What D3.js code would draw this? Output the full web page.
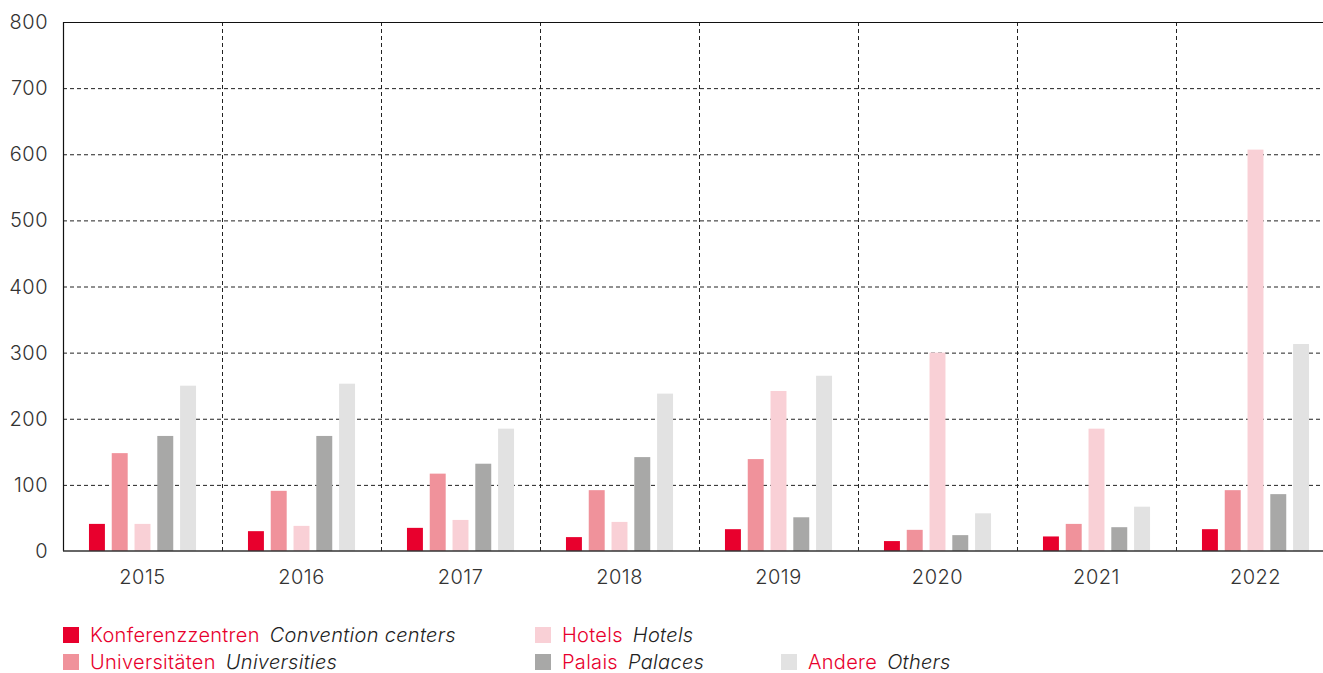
<!DOCTYPE html>
<html>
<head>
<meta charset="utf-8">
<script src="https://cdn.jsdelivr.net/npm/d3@7"></script>
<style>
  body { margin: 0; background: #fff; }
  text { font-family: Inter, "Open Sans", sans-serif; font-weight: 300; }
</style>
</head>
<body>
<script>
var years = ["2015", "2016", "2017", "2018", "2019", "2020", "2021", "2022"];
var seriesKeys = ["conv", "univ", "hotels", "palais", "andere"];
var conv   = [41, 30, 35, 21, 33, 15, 22, 33];
var univ   = [148, 91, 117, 92, 139, 32, 41, 92];
var hotels = [41, 38, 47, 44, 242, 300, 185, 607];
var palais = [174, 174, 132, 142, 51, 24, 36, 86];
var andere = [250, 253, 185, 238, 265, 57, 67, 313];
var yTicks = [0, 100, 200, 300, 400, 500, 600, 700, 800];
var legendDe = ["Konferenzzentren", "Universitäten", "Hotels", "Palais", "Andere"];
var legendEn = ["Convention centers", "Universities", "Hotels", "Palaces", "Others"];
var colors = ["#e8002d", "#f0929b", "#f9d0d6", "#a8a8a7", "#e2e2e2"];

var values = {conv: conv, univ: univ, hotels: hotels, palais: palais, andere: andere};

var width = 1323, height = 673;
var plotLeft = 63, plotTop = 22, plotBottom = 551;
var plotRight = plotLeft + 8 * 159;

var svg = d3.select("body").append("svg")
  .attr("width", width)
  .attr("height", height);

var x0 = d3.scaleBand().domain(years).range([plotLeft, plotRight]).padding(0);
var x1 = d3.scaleBand().domain(seriesKeys).range([0, x0.bandwidth()])
  .paddingInner(0.3).paddingOuter(1.14);
var y = d3.scaleLinear().domain([0, 800]).range([plotBottom, plotTop]);

// grid
var grid = svg.append("g");
grid.selectAll(".hg").data(yTicks.slice(1, -1)).enter().append("line")
  .attr("x1", plotLeft).attr("x2", plotRight)
  .attr("y1", d => y(d) + 0.5).attr("y2", d => y(d) + 0.5)
  .attr("stroke", "#222").attr("stroke-width", 1).attr("stroke-dasharray", "4,3");
grid.selectAll(".vg").data(years.slice(1)).enter().append("line")
  .attr("x1", d => x0(d) + 0.5).attr("x2", d => x0(d) + 0.5)
  .attr("y1", plotTop).attr("y2", plotBottom)
  .attr("stroke", "#222").attr("stroke-width", 1).attr("stroke-dasharray", "4,3");

// bars
var groups = svg.append("g").selectAll("g").data(years).enter().append("g")
  .attr("transform", d => "translate(" + x0(d) + ",0)");
groups.selectAll("rect").data((d, i) => seriesKeys.map((k, j) => ({k: k, v: values[k][i], c: colors[j]})))
  .enter().append("rect")
  .attr("x", d => x1(d.k))
  .attr("width", x1.bandwidth())
  .attr("y", d => y(d.v))
  .attr("height", d => plotBottom - y(d.v))
  .attr("fill", d => d.c);

// frame
svg.append("line").attr("x1", plotLeft).attr("x2", plotRight).attr("y1", plotTop + 0.5).attr("y2", plotTop + 0.5)
  .attr("stroke", "#111").attr("stroke-width", 1.2);
svg.append("line").attr("x1", plotLeft + 0.5).attr("x2", plotLeft + 0.5).attr("y1", plotTop).attr("y2", plotBottom)
  .attr("stroke", "#111").attr("stroke-width", 1.2);
svg.append("line").attr("x1", plotLeft).attr("x2", plotRight).attr("y1", plotBottom).attr("y2", plotBottom)
  .attr("stroke", "#333").attr("stroke-width", 1.5);

// y labels
svg.append("g").selectAll("text").data(yTicks).enter().append("text")
  .attr("x", 48).attr("y", d => y(d)).attr("dy", "0.35em")
  .attr("text-anchor", "end").attr("font-size", 20).attr("fill", "#333")
  .attr("letter-spacing", 0.5)
  .text(d => d);

// x labels
svg.append("g").selectAll("text").data(years).enter().append("text")
  .attr("x", d => x0(d) + x0.bandwidth() / 2).attr("y", 577).attr("dy", "0.35em")
  .attr("text-anchor", "middle").attr("font-size", 20).attr("fill", "#333")
  .attr("letter-spacing", 0.5)
  .text(d => d);

// legend
var legPos = [[63, 635], [63, 662], [535, 635], [535, 662], [781, 662]];
var leg = svg.append("g").selectAll("g").data(legendDe).enter().append("g")
  .attr("transform", (d, i) => "translate(" + legPos[i][0] + "," + legPos[i][1] + ")");
leg.append("rect").attr("x", 0).attr("y", -8).attr("width", 16).attr("height", 16)
  .attr("fill", (d, i) => colors[i]);
var lt = leg.append("text").attr("x", 27).attr("dy", "0.35em").attr("font-size", 20)
  .attr("letter-spacing", 0.3);
lt.append("tspan").attr("fill", "#e8002d").text(d => d);
lt.append("tspan").attr("fill", "#222").attr("font-style", "italic").attr("dx", 10)
  .text((d, i) => legendEn[i]);
</script>
</body>
</html>
